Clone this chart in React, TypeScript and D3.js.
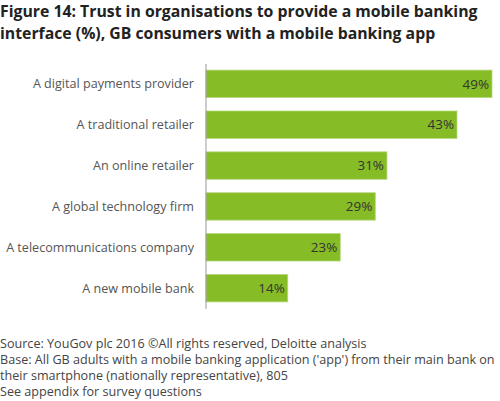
import React from "react";
import * as d3 from "d3";

const categories = [
  "A digital payments provider",
  "A traditional retailer",
  "An online retailer",
  "A global technology firm",
  "A telecommunications company",
  "A new mobile bank",
];
const values = [49, 43, 31, 29, 23, 14];

const titleLines = [
  "Figure 14: Trust in organisations to provide a mobile banking",
  "interface (%), GB consumers with a mobile banking app",
];
const footerLines = [
  "Source: YouGov plc 2016 \u00A9All rights reserved, Deloitte analysis",
  "Base: All GB adults with a mobile banking application ('app') from their main bank on",
  "their smartphone (nationally representative), 805",
  "See appendix for survey questions",
];

const W = 500;
const H = 401;
const FONT = "'Open Sans', 'Noto Sans', sans-serif";

export default function App() {
  const x = d3.scaleLinear().domain([0, 49]).range([206, 492]);
  const y = d3
    .scaleBand<string>()
    .domain(categories)
    .range([64, 308])
    .paddingInner(0.33)
    .paddingOuter(0.15);

  return (
    <svg
      width={W}
      height={H}
      style={{ position: "absolute", left: 0, top: 0, background: "#fff" }}
      fontFamily={FONT}
    >
      {titleLines.map((t, i) => (
        <text
          key={t}
          x={0}
          y={17 + i * 22}
          fontSize={15.8}
          fontWeight="bold"
          fill="#222"
        >
          {t}
        </text>
      ))}

      {categories.map((c, i) => {
        const yy = y(c)!;
        const bw = y.bandwidth();
        return (
          <g key={c}>
            <rect
              x={x(0)}
              y={yy}
              width={x(values[i]) - x(0)}
              height={bw}
              fill="#86bc25"
              stroke="#b4d67a"
              strokeWidth={0.8}
            />
            <text
              x={194}
              y={yy + bw / 2}
              dy="0.35em"
              textAnchor="end"
              fontSize={12.6}
              fill="#555"
            >
              {c}
            </text>
            <text
              x={x(values[i]) - 3}
              y={yy + bw / 2}
              dy="0.35em"
              textAnchor="end"
              fontSize={13.4}
              fill="#333"
            >
              {values[i]}%
            </text>
          </g>
        );
      })}

      <line x1={206} x2={206} y1={64} y2={309} stroke="#999" strokeWidth={1} />

      {footerLines.map((t, i) => (
        <text key={t} x={0} y={348 + i * 16} fontSize={12.6} fill="#444">
          {t}
        </text>
      ))}
    </svg>
  );
}
